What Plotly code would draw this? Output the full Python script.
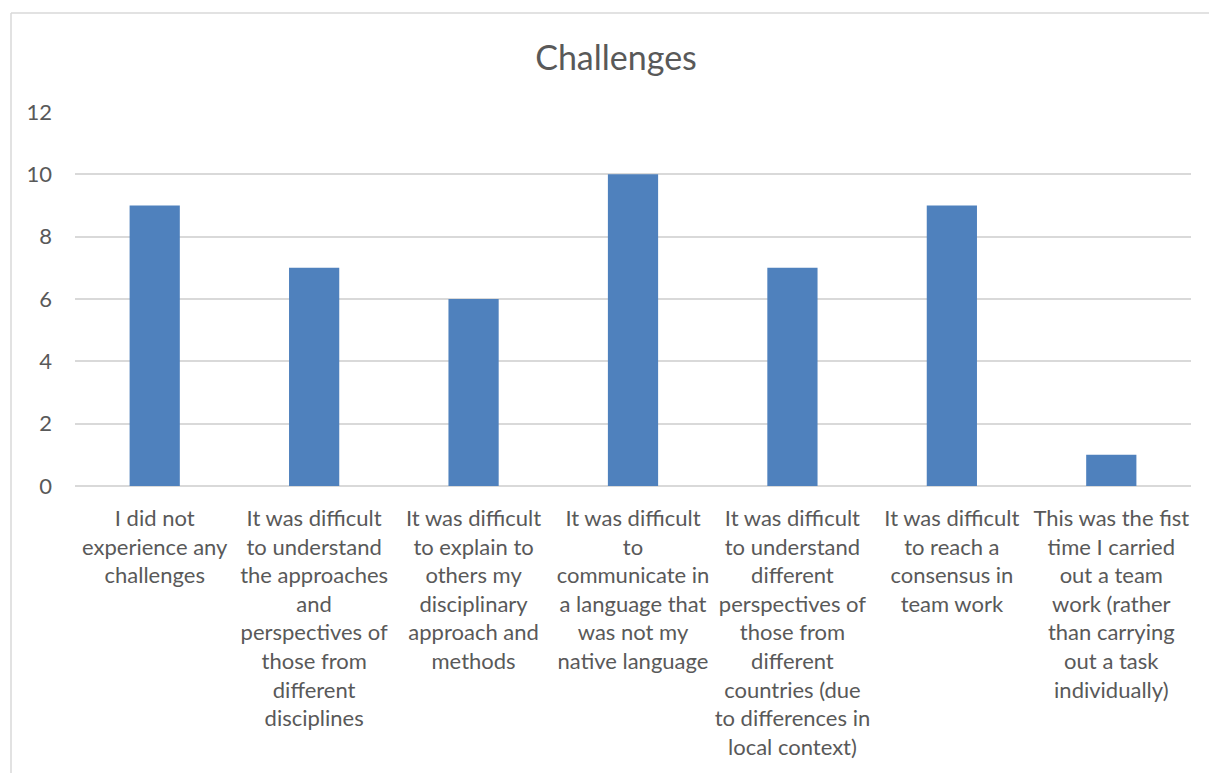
import plotly.graph_objects as go

# Survey responses: challenges reported during team work
categories = [
    "I did not<br>experience any<br>challenges",
    "It was difficult<br>to understand<br>the approaches<br>and<br>perspectives of<br>those from<br>different<br>disciplines",
    "It was difficult<br>to explain to<br>others my<br>disciplinary<br>approach and<br>methods",
    "It was difficult<br>to<br>communicate in<br>a language that<br>was not my<br>native language",
    "It was difficult<br>to understand<br>different<br>perspectives of<br>those from<br>different<br>countries (due<br>to differences in<br>local context)",
    "It was difficult<br>to reach a<br>consensus in<br>team work",
    "This was the fist<br>time I carried<br>out a team<br>work (rather<br>than carrying<br>out a task<br>individually)",
]
counts = [9, 7, 6, 10, 7, 9, 1]
y_ticks = [0, 2, 4, 6, 8, 10, 12]

W, H = 1209, 773
ML, MR, MT, MB = 75, 18, 112, 287
pw, ph = W - ML - MR, H - MT - MB

TEXT = "#595959"
GRID = "#D9D9D9"
FONT = "Lato"

fig = go.Figure(
    go.Bar(
        x=list(range(len(categories))),
        y=counts,
        marker=dict(color="#4F81BD", line=dict(width=0)),
        width=0.315,
    )
)

# chart-area frame (left and top edges visible)
fx0 = (11 - ML) / pw
fy0 = 1 + (MT - 13) / ph
fx1 = (W + 5 - ML) / pw
fyb = -(MB + 10) / ph
fig.add_shape(type="line", xref="paper", yref="paper", x0=fx0, x1=fx0, y0=fyb, y1=fy0,
              line=dict(color=GRID, width=1.5), layer="below")
fig.add_shape(type="line", xref="paper", yref="paper", x0=fx0, x1=fx1, y0=fy0, y1=fy0,
              line=dict(color=GRID, width=1.5), layer="below")

fig.update_layout(
    width=W,
    height=H,
    margin=dict(l=ML, r=MR, t=MT, b=MB),
    paper_bgcolor="white",
    plot_bgcolor="white",
    showlegend=False,
    font=dict(family=FONT, color=TEXT, size=22),
    title=dict(
        text="Challenges",
        x=616 / W,
        xanchor="center",
        y=1 - 58 / H,
        yanchor="middle",
        font=dict(family=FONT, size=34, color=TEXT),
    ),
    xaxis=dict(
        range=[-0.5, len(categories) - 0.5],
        tickmode="array",
        tickvals=list(range(len(categories))),
        ticktext=categories,
        showgrid=False,
        zeroline=False,
        showline=False,
        ticks="",
        ticklabelstandoff=17,
        tickfont=dict(family=FONT, size=22, color=TEXT),
        fixedrange=True,
    ),
    yaxis=dict(
        range=[0, 12],
        tickmode="array",
        tickvals=y_ticks,
        ticktext=[str(v) for v in y_ticks],
        showgrid=True,
        gridcolor=GRID,
        gridwidth=1.5,
        zeroline=True,
        zerolinecolor=GRID,
        zerolinewidth=1.5,
        showline=False,
        ticks="",
        ticklabelstandoff=22,
        tickfont=dict(family=FONT, size=22, color=TEXT),
        fixedrange=True,
    ),
    bargap=0.685,
)

fig.write_html("out.html")
